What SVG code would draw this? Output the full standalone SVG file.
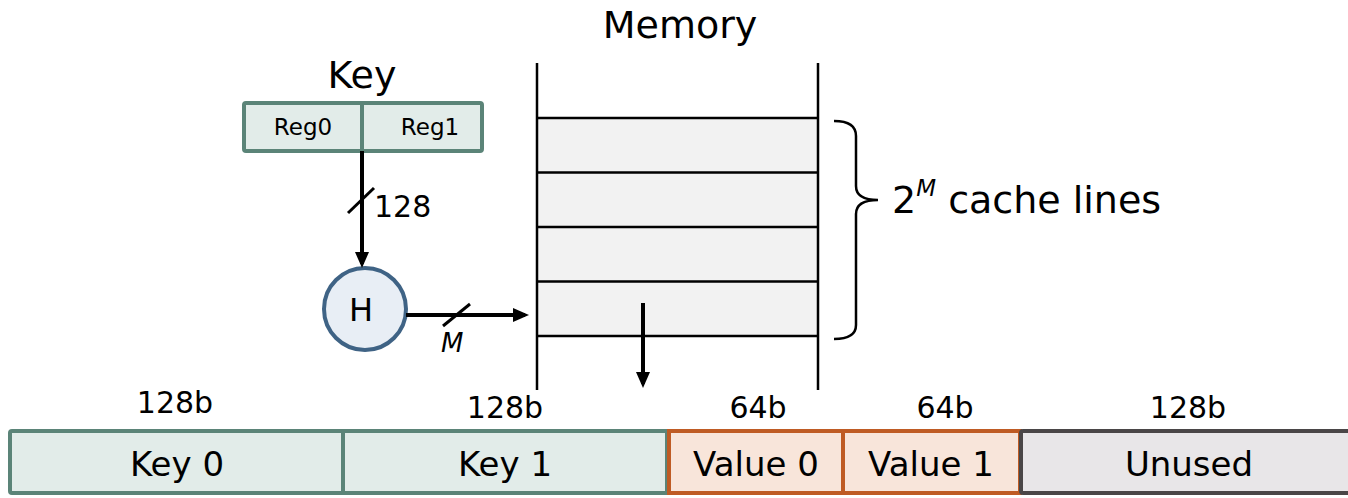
<svg xmlns="http://www.w3.org/2000/svg" width="1348" height="498" viewBox="0 0 1348 498">
<defs>
<style>
text{font-family:"DejaVu Sans","Liberation Sans",sans-serif;fill:#000}
.big{font-size:38px}
.lbl{font-size:34px}
.sz{font-size:30px}
.reg{font-size:23px}
.teal{fill:#e2ece9;stroke:#5b8478;stroke-width:4}
.org{fill:#f8e5da;stroke:#bf5b24;stroke-width:4}
.gry{fill:#e8e6e8;stroke:#4a4647;stroke-width:4}
.mem{stroke:#000;stroke-width:2.5;fill:none}
.arr{stroke:#000;stroke-width:4;fill:none}
</style>
<marker id="ah" markerWidth="18" markerHeight="16" refX="12" refY="8" orient="auto" markerUnits="userSpaceOnUse">
<path d="M0,1 L16,8 L0,15 Z" fill="#000"/>
</marker>
</defs>
<rect width="1348" height="498" fill="#fff"/>

<g id="memory">
<text class="big" x="680" y="38" text-anchor="middle">Memory</text>
<rect x="537" y="118" width="281" height="218" fill="#f2f2f2"/>
<line class="mem" x1="537" y1="63" x2="537" y2="390"/>
<line class="mem" x1="818" y1="63" x2="818" y2="390"/>
<line class="mem" x1="537" y1="118" x2="818" y2="118"/>
<line class="mem" x1="537" y1="172.5" x2="818" y2="172.5"/>
<line class="mem" x1="537" y1="227" x2="818" y2="227"/>
<line class="mem" x1="537" y1="281.5" x2="818" y2="281.5"/>
<line class="mem" x1="537" y1="336" x2="818" y2="336"/>
</g>

<g id="brace">
<path d="M834,121 Q856,121 856,136 L856,186 Q856,200 878,200 Q856,200 856,214 L856,325 Q856,339 834,339" fill="none" stroke="#000" stroke-width="2.5"/>
<text class="big" x="892" y="213">2<tspan font-size="23" font-style="italic" dy="-17">M</tspan><tspan dy="17"> cache lines</tspan></text>
</g>

<g id="key">
<text class="big" x="362" y="88" text-anchor="middle">Key</text>
<rect class="teal" x="244" y="103" width="238" height="48" rx="2"/>
<line x1="362" y1="103" x2="362" y2="151" stroke="#5b8478" stroke-width="4"/>
<text class="reg" x="303" y="135" text-anchor="middle">Reg0</text>
<text class="reg" x="430" y="135" text-anchor="middle">Reg1</text>
</g>

<g id="hash">
<circle cx="365" cy="309" r="41" fill="#e8eef5" stroke="#3f6385" stroke-width="4"/>
<text x="361" y="321" font-size="32" text-anchor="middle">H</text>
</g>

<g id="slot">
<rect class="teal" x="10" y="431" width="333" height="62" rx="2"/>
<rect class="teal" x="343" y="431" width="324" height="62"/>
<rect class="org" x="669" y="431" width="174" height="62"/>
<rect class="org" x="843" y="431" width="177" height="62"/>
<rect class="gry" x="1021" y="431" width="340" height="62" rx="2"/>
<text class="lbl" x="177" y="476" text-anchor="middle">Key 0</text>
<text class="lbl" x="505" y="476" text-anchor="middle">Key 1</text>
<text class="lbl" x="756" y="476" text-anchor="middle">Value 0</text>
<text class="lbl" x="931" y="476" text-anchor="middle">Value 1</text>
<text class="lbl" x="1189" y="476" text-anchor="middle">Unused</text>
<text class="sz" x="175" y="413" text-anchor="middle">128b</text>
<text class="sz" x="505" y="418" text-anchor="middle">128b</text>
<text class="sz" x="758" y="418" text-anchor="middle">64b</text>
<text class="sz" x="945" y="418" text-anchor="middle">64b</text>
<text class="sz" x="1188" y="418" text-anchor="middle">128b</text>
</g>

<g id="connectors">
<line class="arr" x1="362" y1="151" x2="362" y2="264" marker-end="url(#ah)"/>
<line x1="348" y1="213" x2="374" y2="188" stroke="#000" stroke-width="3"/>
<text class="sz" x="374" y="217">128</text>
<line class="arr" x1="406" y1="315" x2="525" y2="315" marker-end="url(#ah)"/>
<line x1="443" y1="326" x2="470" y2="304" stroke="#000" stroke-width="3"/>
<text x="441" y="352" font-size="26" font-style="italic">M</text>
<line class="arr" x1="643" y1="303" x2="643" y2="384" marker-end="url(#ah)"/>
</g>
</svg>
